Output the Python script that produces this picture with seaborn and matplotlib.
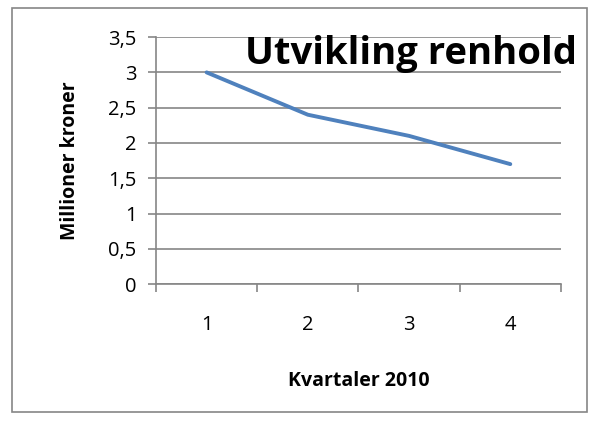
import matplotlib
matplotlib.use("Agg")
import matplotlib.pyplot as plt
import pandas as pd
import seaborn as sns
from matplotlib.patches import Rectangle
from matplotlib.ticker import FixedLocator, FuncFormatter

# data
kvartal = [1, 2, 3, 4]
millioner = [3.0, 2.4, 2.1, 1.7]
y_ticks = [0, 0.5, 1, 1.5, 2, 2.5, 3, 3.5]

sns.set_theme(style="white")
plt.rcParams["font.family"] = ["Open Sans", "DejaVu Sans"]
plt.rcParams["text.color"] = "black"
plt.rcParams["xtick.color"] = "black"
plt.rcParams["ytick.color"] = "black"
plt.rcParams["axes.labelcolor"] = "black"

df = pd.DataFrame({"kvartal": kvartal, "verdi": millioner})

fig = plt.figure(figsize=(5.92, 4.24), dpi=100)
ax = fig.add_axes([0.2635, 0.330, 0.684, 0.5825])

sns.lineplot(data=df, x="kvartal", y="verdi", ax=ax, color="#4F81BD", lw=2.8)

ax.set_xlim(0.5, 4.5)
ax.set_ylim(0, 3.5)
ax.set_yticks(y_ticks)
ax.yaxis.set_major_formatter(FuncFormatter(lambda v, p: f"{v:g}".replace(".", ",")))
ax.set_xticks(kvartal)
ax.xaxis.set_minor_locator(FixedLocator([0.5, 1.5, 2.5, 3.5, 4.5]))
ax.tick_params(axis="x", which="major", length=0, pad=22, labelsize=14.5)
ax.tick_params(axis="x", which="minor", length=6, width=1.2, color="#868686", direction="out", bottom=True)
ax.tick_params(axis="y", length=6, width=1.2, color="#868686", direction="out", left=True,
               labelsize=14.5, pad=8, labelcolor="black")
ax.grid(axis="y", color="#868686", lw=1.2)
ax.set_axisbelow(True)

for s in ["top", "right"]:
    ax.spines[s].set_visible(False)
for s in ["left", "bottom"]:
    ax.spines[s].set_color("#868686")
    ax.spines[s].set_linewidth(1.2)

ax.set_xlabel("Kvartaler 2010", fontsize=14, fontweight="bold", labelpad=26)
ax.set_ylabel("Millioner kroner", fontsize=14, fontweight="bold", labelpad=20)

fig.text(0.695, 0.872, "Utvikling renhold", fontsize=27.5, fontweight="bold",
         ha="center", va="center", color="black")

fig.patches.append(Rectangle((0.021, 0.028), 0.971, 0.952, transform=fig.transFigure,
                             fill=False, edgecolor="#868686", lw=1.2))

fig.savefig("out.png", dpi=100)
